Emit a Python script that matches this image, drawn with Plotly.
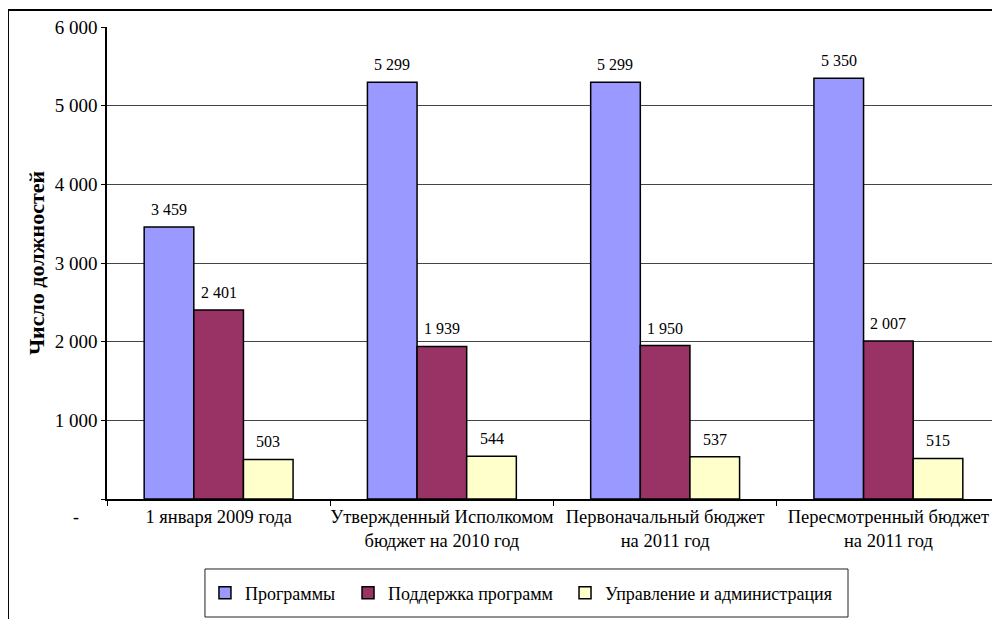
import plotly.graph_objects as go

categories = [
    "1 января 2009 года",
    "Утвержденный Исполкомом<br>бюджет на 2010 год",
    "Первоначальный бюджет<br>на 2011 год",
    "Пересмотренный бюджет<br>на 2011 год",
]
series_names = ["Программы", "Поддержка программ", "Управление и администрация"]
programs = [3459, 5299, 5299, 5350]
support = [2401, 1939, 1950, 2007]
admin = [503, 544, 537, 515]
colors = ["#9999FF", "#993366", "#FFFFCC"]
y_ticks = [0, 1000, 2000, 3000, 4000, 5000, 6000]
y_title = "Число должностей"
zero_label = "-"

FONT = "Liberation Serif"
series_values = [programs, support, admin]
bargap = 0.333
n_series = len(series_values)
bar_w = (1 - bargap) / n_series
legend_ids = ["legend", "legend2", "legend3"]
legend_x = [0.1097, 0.2699, 0.5129]

def fmt(v):
    return f"{v:,}".replace(",", " ")

fig = go.Figure()
for name, vals, col, lg in zip(series_names, series_values, colors, legend_ids):
    fig.add_trace(go.Bar(
        x=categories, y=vals, name=name, legend=lg,
        marker=dict(color=col, line=dict(color="black", width=1.5)),
        hoverinfo="y+name",
    ))

annotations = []
for k, vals in enumerate(series_values):
    for i, v in enumerate(vals):
        annotations.append(dict(
            x=i + (k - (n_series - 1) / 2) * bar_w, y=v, xref="x", yref="y",
            text=fmt(v), showarrow=False, yanchor="bottom", yshift=7,
            font=dict(family=FONT, size=16, color="black"),
        ))
annotations.append(dict(
    x=-0.04, y=0, xref="paper", yref="y", text=zero_label, showarrow=False,
    yshift=-18, font=dict(family=FONT, size=18, color="black"),
))

ticktext = [fmt(v) if v != 0 else "" for v in y_ticks]

legend_common = dict(
    orientation="h", xanchor="left", y=-0.199, yanchor="middle",
    font=dict(family=FONT, size=18, color="black"),
    bgcolor="rgba(0,0,0,0)", borderwidth=0, itemwidth=30,
)
legends = {lg: dict(legend_common, x=lx) for lg, lx in zip(legend_ids, legend_x)}

fig.update_layout(
    width=992, height=611,
    margin=dict(l=99, r=0, t=19, b=120, autoexpand=False),
    paper_bgcolor="white", plot_bgcolor="white",
    barmode="group", bargap=bargap, bargroupgap=0,
    font=dict(family=FONT, size=18, color="black"),
    showlegend=True,
    annotations=annotations,
    shapes=[
        dict(type="rect", xref="paper", yref="paper",
             x0=-0.1109, x1=1.02, y0=-0.4, y1=1.036,
             line=dict(color="black", width=2), fillcolor="rgba(0,0,0,0)"),
        dict(type="rect", xref="paper", yref="paper",
             x0=0.1097, x1=0.8298, y0=-0.25, y1=-0.1483,
             line=dict(color="#222", width=1), fillcolor="rgba(0,0,0,0)"),
    ],
    **legends,
)
fig.update_xaxes(
    type="category", showline=True, linecolor="black", linewidth=1.5,
    ticks="outside", tickson="boundaries", ticklen=5, tickcolor="black",
    showgrid=False, tickfont=dict(family=FONT, size=18.5), tickangle=0,
    automargin=False, range=[-0.5, 3.5],
)
fig.update_yaxes(
    range=[0, 6000], tickvals=y_ticks, ticktext=ticktext,
    showline=True, linecolor="black", linewidth=1.5,
    ticks="outside", ticklen=4, tickcolor="black",
    showgrid=True, gridcolor="#444", gridwidth=1, zeroline=False,
    tickfont=dict(family=FONT, size=19), automargin=False,
    title=dict(text="<b>" + y_title + "</b>", font=dict(family=FONT, size=22), standoff=4),
)

fig.write_html("out.html")
